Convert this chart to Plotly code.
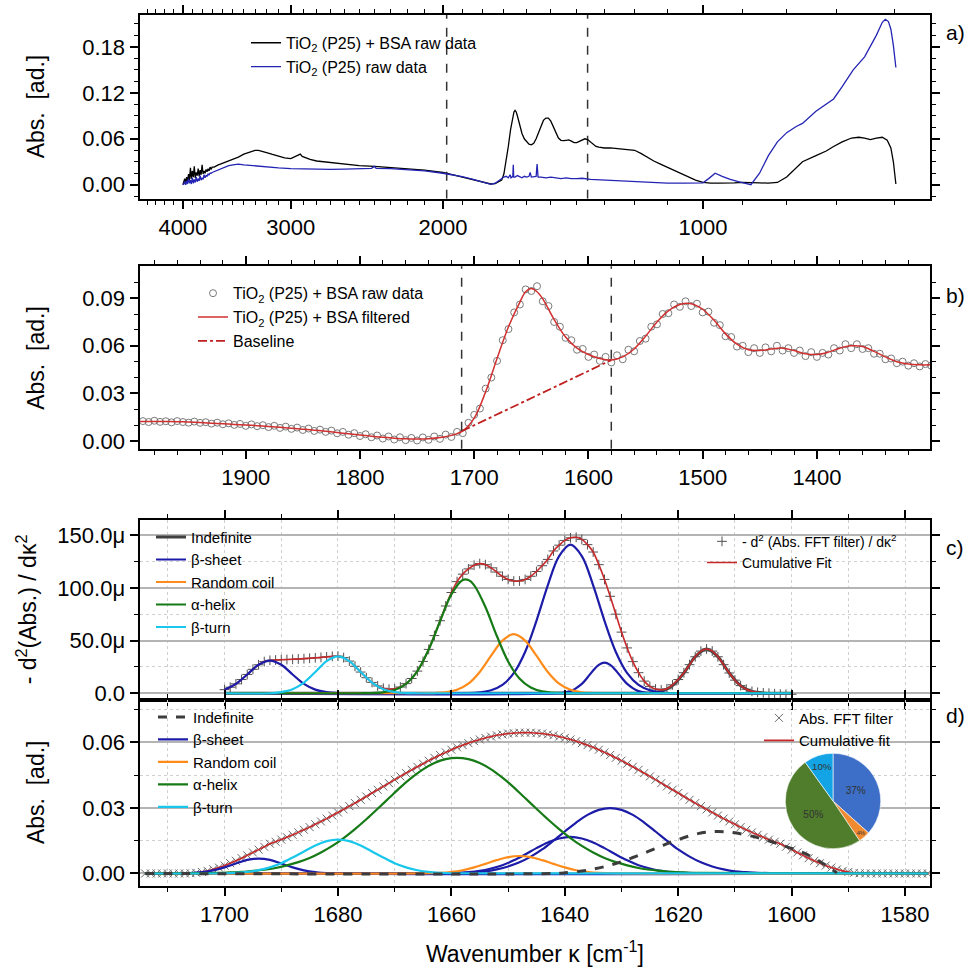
import numpy as np
import plotly.graph_objects as go

# ======================= DATA =======================
# ---- panel a: raw spectra (absorbance x 1e-3) ----
A_BSA_WN = [4000,3990,3980,3970,3960,3950,3940,3930,3920,3910,3900,3890,3880,3870,3860,3850,3840,3830,3820,3810,
            3800,3790,3780,3770,3760,3750,3740,3730,3720,3710,3700,3680,3660,3640,3620,3600,3580,3560,3540,
            3500,3450,3400,3350,3300,3270,3240,3200,3150,3100,3050,3000,2970,2940,2925,2910,2880,2850,2800,2750,2700,
            2600,2500,2400,2300,2200,2100,2000,1950,1900,1850,1800,1780,1760,1740,1720,1710,
            1700,1690,1680,1670,1660,1655,1650,1645,1640,
            1630,1620,1610,1600,1590,1580,1570,1560,1550,1540,1530,1520,1510,1500,1490,1480,1470,1460,1450,1440,
            1430,1420,1410,1400,1390,1380,1370,1360,1350,1340,1330,1320,
            1300,1280,1260,1240,1220,1200,1180,1160,1140,1120,1100,1080,1060,1040,1020,1000,
            980,960,940,920,900,880,860,840,820,800,780,767,740,720,706,690,673,660,650,640,630,620,612,606,602,598]
A_BSA = [0,3,8,2,10,4,14,6,22,8,18,10,24,9,16,12,21,11,19,13,
         26,14,18,15,20,17,21,18,23,20,23,23,25,26,27,28,29,30,31,
         33,36,40,43,45,45,44,42,39.5,37,35,34,36,39,40,37,35,33,31,30,29,
         27,25,24,22.5,21,19,16,13,10.5,7.5,4,2,1,1.5,4,6,
         14,30,50,72,88,95,97,95,90,
         78,67,60,56,53,52,54,60,68,77,84,87,87,83,76,67,61,58,57.5,58,
         58.5,57,55,55,56.5,59,60,59,56,53,50,49,
         48,48,47.5,47,46.5,45,41,36,31,27,23,19,15,10,6,3,
         2,2,2,2.5,3,3,2.5,2,3,10,22,30,38,44,50,56,61,62,61,59,61,62,58,48,30,1]

A_TIO2_WN = [4000,3990,3980,3970,3960,3950,3940,3930,3920,3910,3900,3890,3880,3870,3860,3850,3840,3830,3820,3810,
             3800,3790,3780,3770,3760,3750,3740,3730,3720,3710,3700,3680,3660,3640,3620,3600,3580,3560,3540,
             3500,3450,3400,3300,3200,3100,3000,2900,2800,2700,2600,2500,2420,2400,2390,2300,2200,2100,2000,
             1950,1900,1850,1800,1780,1760,1740,1720,1710,
             1700,1690,1680,1672,1668,1660,1658,1656,1650,1640,1630,1620,1610,1600,1590,1585,1580,1560,1556,1552,
             1540,1520,1500,1480,1460,1440,1420,1400,1380,1350,1300,1250,1200,1150,1100,1050,1000,
             985,968,950,930,910,890,880,860,840,820,800,780,767,740,720,706,690,670,650,640,630,620,615,610,606,602,598]
A_TIO2 = [0,1,4,0,5,1,8,2,6,1,9,2,7,3,10,4,8,5,12,6,
          9,7,13,9,12,11,14,13,15,15,16,17,19,20,21,22,23,24,25,
          26,27,26,24.5,23,22,21,20.5,20,20,20.5,21,21.5,24,21.5,21,19.5,18,15,
          13,10.5,7.5,4,2,0.5,2,6,9,
          10,11,9,13,9,11,26,10,10,12,10,9,11,10,11,16,10,11,27,10,
          10,9,10,9,8,9,8,8,8.5,7,6,5,4,3,2,2,2.5,
          8,15,11,7,4,1,0,15,38,56,68,76,80,96,106,112,128,150,167,180,195,212,216,213,203,182,153]
A_XTICKS = [4000, 3000, 2000, 1000]
A_YTICKS = [0.00, 0.06, 0.12, 0.18]
A_MARKERS = [1980, 1360]          # dashed guide lines (cm-1)

# ---- panel b (absorbance x 1e-3) ----
B_FILT_WN = [1995,1990,1980,1970,1960,1950,1940,1930,1920,1910,1900,1890,1880,1870,1860,1850,1840,1830,1820,1810,
             1800,1790,1780,1770,1760,1750,1740,1730,1720,1710,1700,1690,1680,1670,1660,1655,1650,1645,1640,
             1630,1620,1610,1600,1590,1580,1570,1560,1550,1540,1530,1520,1510,1500,1490,1480,1470,1460,1450,1440,
             1430,1420,1410,1400,1390,1380,1370,1360,1350,1340,1330,1320,1310,1300]
B_FILT = [12.4,12.4,12.4,12.3,12.2,12.0,11.7,11.3,10.9,10.5,10.1,9.7,9.2,8.7,8.1,7.5,6.9,6.2,5.4,4.6,
          3.8,3.1,2.4,1.8,1.4,1.3,1.5,2.2,3.6,6.5,14.5,31.0,52.0,72.0,87.5,94.0,96.0,94.0,89.5,
          76.5,65.5,58.5,54.5,52.0,51.0,53.0,58.0,66.0,75.0,82.0,86.0,86.5,83.0,76.0,67.5,61.0,57.5,57.0,58.0,
          58.5,57.0,55.0,54.5,56.0,58.5,60.0,59.5,56.5,53.0,50.0,48.5,48.0,48.0]
B_RAW_START, B_RAW_STEP = 1990, 5
B_RAW = [12.6,12.0,12.8,12.1,12.5,11.8,12.6,12.0,11.6,12.3,
         11.5,11.9,11.0,11.6,10.6,11.2,10.2,10.8,9.6,10.5,
         9.4,10.0,8.8,9.6,8.3,9.1,7.7,8.5,7.0,7.9,
         6.4,7.2,5.8,6.6,4.9,5.8,4.0,5.0,3.2,4.3,
         2.4,3.5,1.6,2.9,1.0,2.4,0.6,2.0,0.4,2.3,
         0.8,2.9,1.4,4.1,2.6,5.8,5.0,11.5,16.5,20.5,
         33.0,40.0,50.5,63.5,70.5,81.0,86.0,95.5,94.5,97.5,
         88.0,85.0,75.0,72.0,65.0,63.5,57.5,58.0,53.0,54.5,
         50.5,53.0,49.5,54.0,51.5,57.5,56.5,63.0,64.5,72.0,
         73.5,80.0,80.5,86.0,84.5,88.0,85.0,86.5,81.0,81.5,
         74.5,73.0,66.0,65.5,59.5,60.0,56.0,58.5,55.5,59.0,
         56.5,60.0,57.0,58.5,55.5,57.0,53.5,56.0,53.0,55.5,
         54.5,58.5,57.0,61.0,58.5,61.0,58.0,58.5,55.0,55.0,
         51.5,52.0,49.0,50.0,47.5,49.0,47.0,48.5,47.5]
B_BASE_WN = [1711, 1580]
B_BASE = [6.2, 51.0]
B_MARKERS = [1711, 1580]
B_XTICKS = [1900, 1800, 1700, 1600, 1500, 1400]
B_YTICKS = [0.00, 0.03, 0.06, 0.09]

# ---- panel c: second derivative (units of 1e-6) ----
C_CUM_START = 1700   # 1 cm-1 step, descending
C_CUM = [3.4,5.7,8.9,13.0,17.8,22.7,27.0,30.0,31.2,31.5,
         31.8,32.0,32.2,32.5,32.8,33.2,33.6,34.0,34.5,35.0,
         35.2,33.8,30.5,25.6,20.1,14.7,10.3,6.9,4.7,3.8,
         4.2,5.9,9.1,14.0,21.0,30.2,41.6,54.7,68.8,82.8,
         95.6,105.9,113.0,118.0,121.5,123.0,122.0,119.0,115.0,111.0,
         108.0,106.5,106.5,108.0,111.0,115.5,121.0,127.0,135.0,140.5,
         145.0,147.5,148.0,146.0,141.0,134.0,122.0,108.0,92.0,75.0,
         58.0,43.0,30.0,19.5,11.5,6.5,4.0,3.2,4.2,8.0,
         13.0,19.5,27.1,34.6,40.0,42.0,40.0,34.6,27.1,19.2,
         12.4,7.2,3.8,1.8,0.8,0.3,0.0,-0.5,-0.8,-1.0,
         -1.0]
C_IND_WN = [1700,1627,1625,1623,1621,1619,1617,1615,1613,1611,1609,1607,1605,1603,1600]
C_IND = [0,0,0.3,1.8,7.2,19.2,34.6,42,34.6,19.2,7.2,1.8,0.3,0,0]
C_BS1_WN = [1700,1698,1696,1694,1692,1690,1688,1686,1684,1682,1680,1678,1600]
C_BS1 = [3.4,8.9,17.8,27.0,31,27.0,17.8,8.9,3.4,1.0,0.2,0,0]
C_BS2_WN = [1700,1657,1655,1653,1651,1649,1647,1645,1643,1641,1639,1637,1635,1633,1631,1629,1627,1625,1623,1621,1600]
C_BS2 = [0,0.1,0.8,2.8,7.9,19.1,39.2,68.7,102.4,130.2,141,130.2,102.4,68.7,39.2,19.1,7.9,2.8,0.8,0,0]
C_BS3_WN = [1700,1641,1639,1637,1636,1635,1634,1633,1632,1631,1630,1629,1627,1625,1600]
C_BS3 = [0,0.3,2.0,8.9,14.9,21.6,26.9,29,26.9,21.6,14.9,8.9,2.0,0.3,0]
C_RC_WN = [1700,1665,1663,1661,1659,1657,1655,1653,1651,1649,1647,1645,1643,1641,1639,1637,1635,1633,1600]
C_RC = [0,0,0.2,0.9,3.3,9.1,20.2,35.6,50.0,56,50.0,35.6,20.2,9.1,3.3,0.9,0.2,0,0]
C_AH_WN = [1700,1676,1674,1672,1670,1668,1666,1664,1662,1660,1658,1657,1656,1654,1652,1650,1648,1646,1644,1642,1640,1600]
C_AH = [0,0,0.2,0.9,3.1,8.9,21.0,41.5,68.3,93.8,107.4,107.4,102.6,81.9,54.5,30.2,14.0,5.4,1.7,0.5,0.1,0]
C_BT_WN = [1700,1692,1690,1688,1686,1684,1682,1680,1678,1676,1674,1672,1670,1668,1666,1600]
C_BT = [0,0,1.1,3.8,10.1,20.1,30.5,35,30.5,20.1,10.1,3.8,1.1,0.2,0,0]
C_YTICKS = [0, 50, 100, 150]
C_YLABELS = ["0.0", "50.0\u03bc", "100.0\u03bc", "150.0\u03bc"]

# ---- panel d: absorbance components (x 1e-3) ----
D_CUM_START = 1714   # 1 cm-1 step, descending
D_CUM = [0,0,0,0,0,0,0,0,
         0.1,0.3,0.7,1.2,1.9,2.7,3.6,4.7,5.8,7.0,8.3,9.6,10.9,12.2,13.6,14.5,15.5,16.6,17.7,18.8,
         20.0,21.2,22.5,23.8,25.1,26.5,27.9,29.3,30.8,32.2,33.7,35.2,36.8,38.3,39.8,41.3,42.9,44.4,45.9,47.4,
         48.8,50.2,51.6,52.9,54.2,55.4,56.6,57.7,58.7,59.6,60.5,61.3,62.0,62.6,63.2,63.6,64.0,64.2,64.4,
         64.4,64.4,64.2,64.0,63.6,63.2,62.6,62.0,61.3,60.5,59.6,58.7,57.7,56.6,55.4,54.2,52.9,51.6,50.2,48.8,
         47.4,45.9,44.4,42.9,41.3,39.8,38.3,36.8,35.2,33.7,32.2,30.8,29.3,27.9,26.5,25.1,23.8,22.5,21.2,20.0,
         18.8,17.7,16.6,15.5,14.5,13.6,12.2,10.9,9.6,8.3,7.0,5.8,4.7,3.6,2.7,1.9,1.2,0.7,0.3,0.1,
         0,0,0,0,0,0,0,0,0,0,0,0]
D_IND_WN = [1714,1642,1640,1636,1632,1628,1624,1620,1616,1613,1610,1606,1602,1598,1595,1593,1592]
D_IND = [0,0,0.3,1.5,3.8,7.3,11.4,15.5,18.5,19.2,18.6,16.4,13.2,9.5,5.5,2.0,0.3]
D_BS1_WN = [1714,1706,1704,1702,1700,1698,1696,1694,1692,1690,1688,1686,1684,1682,1576]
D_BS1 = [0,0.2,0.6,1.4,2.8,4.6,6.2,6.8,6.2,4.6,2.8,1.4,0.6,0.2,0]
D_BS2_WN = [1714,1659,1657,1655,1653,1651,1649,1647,1645,1643,1641,1639,1637,1635,1633,1631,1629,1627,1625,1623,1621,1619,1576]
D_BS2 = [0,0.3,0.6,1.2,2.3,3.8,6.0,8.7,11.6,14.2,16.0,16.7,16.0,14.2,11.6,8.7,6.0,3.8,2.3,1.2,0.6,0.3,0]
D_BS3_WN = [1714,1658,1656,1654,1652,1650,1648,1646,1644,1642,1640,1638,1636,1634,1632,1630,1628,1626,1624,1622,
            1620,1618,1616,1614,1612,1610,1608,1606,1576]
D_BS3 = [0,0.3,0.6,1.0,1.9,3.2,5.1,7.7,11.0,15.0,19.2,23.3,26.8,29.1,29.9,29.1,26.8,23.3,19.2,15.0,
         11.0,7.7,5.1,3.2,1.9,1.0,0.6,0.3,0]
D_RC_WN = [1714,1662,1660,1658,1656,1654,1652,1650,1648,1646,1644,1642,1640,1638,1636,1634,1576]
D_RC = [0,0.3,0.7,1.5,2.8,4.4,6.1,7.5,8.0,7.5,6.1,4.4,2.8,1.5,0.7,0.3,0]
D_AH_WN = [1714,1701,1699,1697,1695,1693,1691,1689,1687,1685,1683,1681,1679,1677,1675,1673,1671,1669,1667,1665,
           1663,1661,1659,1657,1655,1653,1651,1649,1647,1645,1643,1641,1639,1637,1635,1633,1631,1629,1627,1625,
           1623,1621,1619,1617,1576]
D_AH = [0,0.3,0.5,0.7,1.2,1.7,2.5,3.7,5.2,7.1,9.6,12.6,16.2,20.3,24.8,29.6,34.5,39.4,43.8,47.6,
        50.5,52.3,52.9,52.3,50.5,47.6,43.8,39.4,34.5,29.6,24.8,20.3,16.2,12.6,9.6,7.1,5.2,3.7,2.5,1.7,
        1.2,0.7,0.5,0.3,0]
D_BT_WN = [1714,1700,1698,1696,1694,1692,1690,1688,1686,1684,1682,1680,1678,1676,1674,1672,1670,1668,1666,1664,1662,1660,1576]
D_BT = [0,0.1,0.3,0.7,1.5,2.8,4.7,7.3,10.1,12.8,14.8,15.5,14.8,12.8,10.1,7.3,4.7,2.8,1.5,0.7,0.3,0.1,0]
D_XTICKS = [1700, 1680, 1660, 1640, 1620, 1600, 1580]
D_YTICKS = [0.00, 0.03, 0.06]

# ---- pie inset ----
PIE_LABELS = ["\u03b2-sheet", "Random coil", "\u03b1-helix", "\u03b2-turn"]
PIE_VALUES = [37, 4, 50, 10]
PIE_TEXT = ["37%", "4%", "50%", "10%"]

# ======================= STYLE / LAYOUT =======================
W, H = 971, 974
FONT = "Liberation Sans, Arial, sans-serif"
COL_BLUE, COL_ORANGE, COL_GREEN, COL_CYAN = "#1c1ca8", "#ff8c1a", "#167a16", "#19c6ec"
COL_RED, COL_IND = "#c8282a", "#404040"
A_YRANGE = [-0.0183, 0.2217]

def fx(p):
    return p / W

def fy(p):
    return 1 - p / H

XDOM = [fx(139.5), fx(930)]
PANELS = {"a": (200, 15), "b": (451.5, 268), "c": (704, 523), "d": (891, 704)}

def ydom(k):
    b, t = PANELS[k]
    return [fy(b), fy(t)]

m3 = 1e-3
fig = go.Figure()

def sc(x, y, xa, ya, **kw):
    n = min(len(x), len(y))
    xs = [float(v) for v in list(x)[:n]]
    ys = [float(v) for v in list(y)[:n]]
    fig.add_trace(go.Scatter(x=xs, y=ys, xaxis=xa, yaxis=ya, hoverinfo="skip", **kw))

# ---- panel a ----
for v in A_MARKERS:
    sc([v, v], A_YRANGE, "x", "y", mode="lines", line=dict(color="#333333", width=1.5, dash="dash"),
       showlegend=False)
sc(A_BSA_WN, np.array(A_BSA) * m3, "x", "y", mode="lines", line=dict(color="black", width=1.3),
   name="TiO<sub>2</sub> (P25) + BSA raw data", legend="legend")
sc(A_TIO2_WN, np.array(A_TIO2) * m3, "x", "y", mode="lines", line=dict(color="#2424b4", width=1.3),
   name="TiO<sub>2</sub> (P25) raw data", legend="legend")

# ---- panel b ----
b_raw_x = B_RAW_START - B_RAW_STEP * np.arange(len(B_RAW))
sc(b_raw_x, np.array(B_RAW) * m3, "x2", "y2", mode="markers",
   marker=dict(symbol="circle-open", size=7, color="#7a7a7a", line=dict(width=1)),
   name="TiO<sub>2</sub> (P25) + BSA raw data", legend="legend2")
sc(B_FILT_WN, np.array(B_FILT) * m3, "x2", "y2", mode="lines", line=dict(color="#d23030", width=1.5, shape="spline"),
   name="TiO<sub>2</sub> (P25) + BSA filtered", legend="legend2")
sc(B_BASE_WN, np.array(B_BASE) * m3, "x2", "y2", mode="lines", line=dict(color="#c02020", width=1.8, dash="dashdot"),
   name="Baseline", legend="legend2")

# ---- panel c ----
c_x = C_CUM_START - np.arange(len(C_CUM))
sc(C_IND_WN, C_IND, "x3", "y3", mode="lines", line=dict(color=COL_IND, width=3, shape="spline"),
   name="Indefinite", legend="legend3")
sc(c_x, C_CUM, "x3", "y3", mode="markers",
   marker=dict(symbol="cross-thin", size=7, color="#505050", line=dict(width=1, color="#505050")),
   name="- d<sup>2</sup> (Abs. FFT filter) / d\u03ba<sup>2</sup>", legend="legend4")
sc(c_x, C_CUM, "x3", "y3", mode="lines", line=dict(color=COL_RED, width=1.6, shape="spline"),
   name="Cumulative Fit", legend="legend4")
first = True
for xs, ys in [(C_BS1_WN, C_BS1), (C_BS2_WN, C_BS2), (C_BS3_WN, C_BS3)]:
    sc(xs, ys, "x3", "y3", mode="lines", line=dict(color=COL_BLUE, width=2.2, shape="spline"),
       name="\u03b2-sheet", legend="legend3", showlegend=first, legendgroup="cbs")
    first = False
sc(C_RC_WN, C_RC, "x3", "y3", mode="lines", line=dict(color=COL_ORANGE, width=2.2, shape="spline"),
   name="Random coil", legend="legend3")
sc(C_AH_WN, C_AH, "x3", "y3", mode="lines", line=dict(color=COL_GREEN, width=2.2, shape="spline"),
   name="\u03b1-helix", legend="legend3")
sc(C_BT_WN, C_BT, "x3", "y3", mode="lines", line=dict(color=COL_CYAN, width=2.2, shape="spline"),
   name="\u03b2-turn", legend="legend3")

# ---- panel d ----
d_x = D_CUM_START - np.arange(len(D_CUM))
sc(d_x, np.array(D_CUM) * m3, "x4", "y4", mode="markers",
   marker=dict(symbol="x-thin", size=8, color="#6a6a6a", line=dict(width=1, color="#6a6a6a")),
   name="Abs. FFT filter", legend="legend6")
sc(d_x, np.array(D_CUM) * m3, "x4", "y4", mode="lines", line=dict(color=COL_RED, width=1.6, shape="spline"),
   name="Cumulative fit", legend="legend6")
first = True
for xs, ys in [(D_BS1_WN, D_BS1), (D_BS2_WN, D_BS2), (D_BS3_WN, D_BS3)]:
    sc(xs, np.array(ys) * m3, "x4", "y4", mode="lines", line=dict(color=COL_BLUE, width=2.2, shape="spline"),
       name="\u03b2-sheet", legend="legend5", showlegend=first, legendgroup="dbs", legendrank=2)
    first = False
sc(D_RC_WN, np.array(D_RC) * m3, "x4", "y4", mode="lines", line=dict(color=COL_ORANGE, width=2.2, shape="spline"),
   name="Random coil", legend="legend5", legendrank=3)
sc(D_AH_WN, np.array(D_AH) * m3, "x4", "y4", mode="lines", line=dict(color=COL_GREEN, width=2.2, shape="spline"),
   name="\u03b1-helix", legend="legend5", legendrank=4)
sc(D_BT_WN, np.array(D_BT) * m3, "x4", "y4", mode="lines", line=dict(color=COL_CYAN, width=2.2, shape="spline"),
   name="\u03b2-turn", legend="legend5", legendrank=5)
sc(D_IND_WN, np.array(D_IND) * m3, "x4", "y4", mode="lines",
   line=dict(color="#3c3c3c", width=3, dash="dash", shape="spline"),
   name="Indefinite", legend="legend5", legendrank=1)

# ---- pie inset ----
fig.add_trace(go.Pie(labels=PIE_LABELS, values=PIE_VALUES, text=PIE_TEXT, textinfo="text",
                     sort=False, direction="clockwise", rotation=0,
                     marker=dict(colors=["#3d6fc8", "#f08a30", "#4f7d2c", "#12a4e4"],
                                 line=dict(color="#ffffff", width=0.6)),
                     textfont=dict(size=10, color="#333333", family=FONT),
                     insidetextorientation="horizontal", textposition="inside",
                     domain=dict(x=[fx(785), fx(881)], y=[fy(854), fy(758)]),
                     showlegend=False, hoverinfo="skip"))

# ======================= AXES =======================
TICKFONT = dict(family=FONT, size=22, color="black")

def base_axis(**kw):
    d = dict(type="linear", showline=True, linecolor="black", linewidth=2, mirror="ticks", ticks="outside",
             ticklen=8, tickwidth=1.5, tickcolor="black", showgrid=False, zeroline=False,
             tickfont=TICKFONT)
    d.update(kw)
    return d

def minor(vals, grid=False):
    d = dict(tickmode="array", tickvals=[float(v) for v in vals], ticks="outside", ticklen=4,
             tickwidth=1.2, tickcolor="black")
    if grid:
        d.update(showgrid=True, gridcolor="#cfcfcf", griddash="dot", gridwidth=1)
    return d

a_minor = [v for v in range(4400, 500, -100) if v not in A_XTICKS]
cd_minor = [v for v in range(1710, 1575, -10) if v not in D_XTICKS]
lay = dict(
    xaxis=base_axis(domain=XDOM, anchor="y", type="log",
                    range=[np.log10(4490), np.log10(546)],
                    tickmode="array", tickvals=A_XTICKS, ticktext=[str(v) for v in A_XTICKS],
                    minor=minor(a_minor)),
    yaxis=base_axis(domain=ydom("a"), anchor="x", range=A_YRANGE,
                    tickmode="array", tickvals=A_YTICKS, ticktext=["%.2f" % v for v in A_YTICKS],
                    minor=minor(np.arange(-0.015, 0.22, 0.015))),
    xaxis2=base_axis(domain=XDOM, anchor="y2", range=[1993, 1301],
                     tickmode="array", tickvals=B_XTICKS, ticktext=[str(v) for v in B_XTICKS],
                     minor=minor(np.arange(1980, 1300, -20))),
    yaxis2=base_axis(domain=ydom("b"), anchor="x2", range=[-0.0048, 0.110],
                     tickmode="array", tickvals=B_YTICKS, ticktext=["%.2f" % v for v in B_YTICKS],
                     minor=minor(np.arange(0.0, 0.11, 0.01))),
    xaxis3=base_axis(domain=XDOM, anchor="y3", range=[1715, 1575.6],
                     tickmode="array", tickvals=D_XTICKS, showticklabels=False,
                     showgrid=True, gridcolor="#cfcfcf", griddash="dot", gridwidth=1,
                     minor=minor(cd_minor, grid=True)),
    yaxis3=base_axis(domain=ydom("c"), anchor="x3", range=[-6.1, 164.6],
                     tickmode="array", tickvals=C_YTICKS, ticktext=C_YLABELS,
                     showgrid=True, gridcolor="#b4b4b4", gridwidth=1.6,
                     minor=minor([25, 75, 125], grid=True)),
    xaxis4=base_axis(domain=XDOM, anchor="y4", range=[1715, 1575.6],
                     tickmode="array", tickvals=D_XTICKS, ticktext=[str(v) for v in D_XTICKS],
                     showgrid=True, gridcolor="#cfcfcf", griddash="dot", gridwidth=1,
                     minor=minor(cd_minor, grid=True)),
    yaxis4=base_axis(domain=ydom("d"), anchor="x4", range=[-0.0055, 0.0795],
                     tickmode="array", tickvals=D_YTICKS, ticktext=["%.2f" % v for v in D_YTICKS],
                     showgrid=True, gridcolor="#b4b4b4", gridwidth=1.6,
                     minor=minor([0.015, 0.045, 0.075], grid=True)),
)

def leg(xp, yp, size=15):
    return dict(x=fx(xp), y=fy(yp), xanchor="left", yanchor="top", bgcolor="rgba(0,0,0,0)",
                borderwidth=0, font=dict(family=FONT, size=size, color="black"),
                tracegroupgap=0, traceorder="normal")

lay.update(
    legend=leg(246, 26, 16),
    legend2=leg(193, 278, 16),
    legend3=leg(151, 524, 15),
    legend4=leg(702, 529, 14),
    legend5=leg(153, 705, 15),
    legend6=leg(759, 706, 15),
)

# ---- text annotations ----
ann = []
def text(x, y, s, size=22, angle=0, xanchor="center"):
    ann.append(dict(x=fx(x), y=fy(y), xref="paper", yref="paper", text=s, showarrow=False,
                    textangle=angle, xanchor=xanchor, yanchor="middle",
                    font=dict(family=FONT, size=size, color="black")))

text(36, 107, "Abs.  [ad.]", 23, -90)
text(36, 360, "Abs.  [ad.]", 23, -90)
text(27, 613, "- d<sup>2</sup>(Abs.) / d\u03ba<sup>2</sup>", 23, -90)
text(36, 797, "Abs.  [ad.]", 23, -90)
text(535, 958, "Wavenumber \u03ba [cm<sup>-1</sup>]", 23)
text(955, 33, "a)", 21)
text(955, 297, "b)", 21)
text(955, 551, "c)", 21)
text(955, 720, "d)", 21)

# ---- dashed guide lines in panel b ----
shapes = []
for v in B_MARKERS:
    shapes.append(dict(type="line", xref="x2", yref="y2 domain", x0=v, x1=v, y0=0, y1=1,
                       line=dict(color="#333333", width=1.5, dash="dash")))

fig.update_layout(**lay)
fig.update_layout(annotations=ann, shapes=shapes, width=W, height=H, autosize=False,
                  margin=dict(l=0, r=0, t=0, b=0), paper_bgcolor="white", plot_bgcolor="white",
                  showlegend=True, font=dict(family=FONT, color="black"))
fig.write_html("out.html", config={"displayModeBar": False},
               post_script="document.body.style.margin='0';document.body.style.overflow='hidden';"
                           "document.documentElement.style.overflow='hidden';")
